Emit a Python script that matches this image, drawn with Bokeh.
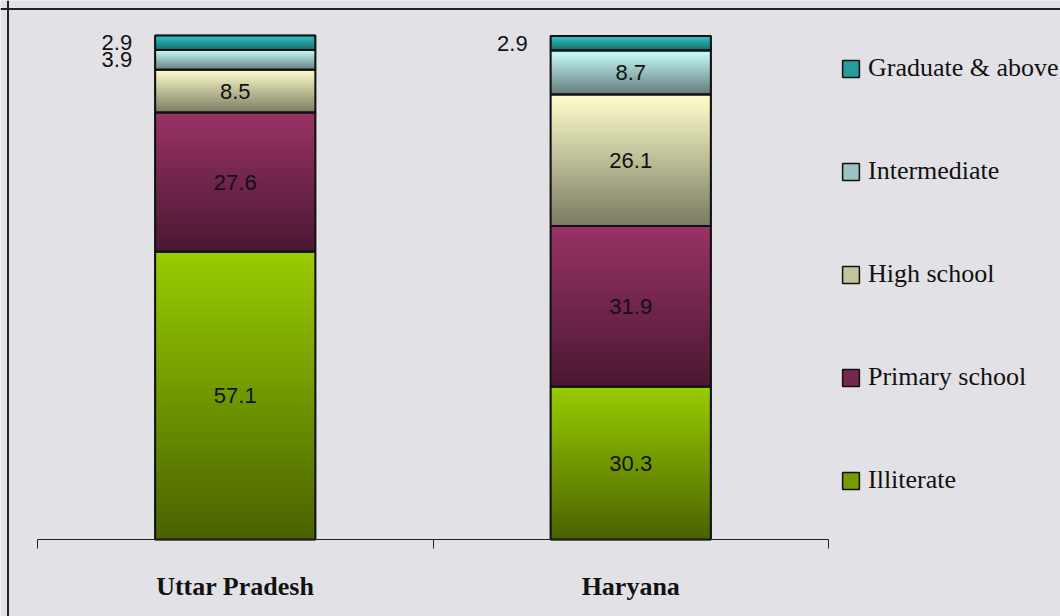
from bokeh.plotting import figure
from bokeh.models import Range1d, LinearAxis, FixedTicker, Span, Legend, LegendItem, ColumnDataSource
from bokeh.core.properties import value
from bokeh.embed import file_html
from bokeh.resources import INLINE

# ---------------- data ----------------
states = ["Uttar Pradesh", "Haryana"]
levels = ["Illiterate", "Primary school", "High school", "Intermediate", "Graduate & above"]
illiterate = [57.1, 30.3]
primary_school = [27.6, 31.9]
high_school = [8.5, 26.1]
intermediate = [3.9, 8.7]
graduate_above = [2.9, 2.9]
series = [illiterate, primary_school, high_school, intermediate, graduate_above]
top_colors = ["#99cc00", "#993366", "#ffffcc", "#ccffff", "#33cccc"]

# ---------------- layout constants ----------------
W, H = 1060, 616
AX_L, AX_R = 37, 828        # pixel ends of the category axis
BASE_Y, TOP_Y = 539, 35     # pixel of value 0 and value 100
XS = 4.0 / (AX_R - AX_L)    # data units per pixel (x)
YS = 100.0 / (BASE_Y - TOP_Y)
BG = "#e2e2e6"
centers = [1, 3]
BAR_W = 0.81
N_SLICES = 40


def hex2rgb(h):
    h = h.lstrip("#")
    return [int(h[i:i + 2], 16) for i in (0, 2, 4)]


def rgb2hex(c):
    return "#%02x%02x%02x" % tuple(max(0, min(255, int(round(v)))) for v in c)


def shade(h, f):
    return rgb2hex([v * f for v in hex2rgb(h)])


def mix(a, b, t):
    ca, cb = hex2rgb(a), hex2rgb(b)
    return rgb2hex([ca[i] + (cb[i] - ca[i]) * t for i in range(3)])


p = figure(width=W, height=H,
           x_range=Range1d(-AX_L * XS, (W - AX_L) * XS),
           y_range=Range1d(-(H - BASE_Y) * YS, BASE_Y * YS),
           x_axis_type=None, y_axis_type=None,
           toolbar_location=None, output_backend="svg",
           min_border_left=0, min_border_right=0, min_border_top=0, min_border_bottom=0,
           background_fill_color=BG, border_fill_color=BG, outline_line_color=None)
p.grid.visible = False

# ---------------- stacked bars: base segment per level (legend renderers) ----------------
level_renderers = []
sl = dict(left=[], right=[], bottom=[], top=[], color=[])
ol = dict(left=[], right=[], bottom=[], top=[])
lab_in = dict(x=[], y=[], text=[])
lab_out = dict(x=[], y=[], text=[])
bases = [0.0 for _ in states]
for li, vals in enumerate(series):
    top_c = top_colors[li]
    bot_c = shade(top_c, 0.48)
    seg = dict(left=[], right=[], bottom=[], top=[])
    for si, cx in enumerate(centers):
        v = vals[si]
        base = bases[si]
        seg["left"].append(cx - BAR_W / 2)
        seg["right"].append(cx + BAR_W / 2)
        seg["bottom"].append(base)
        seg["top"].append(base + v)
        h = v / N_SLICES
        for k in range(N_SLICES):
            b = base + k * h
            t = base + (k + 1) * h + (h * 0.6 if k < N_SLICES - 1 else 0)
            sl["left"].append(cx - BAR_W / 2)
            sl["right"].append(cx + BAR_W / 2)
            sl["bottom"].append(b)
            sl["top"].append(t)
            sl["color"].append(mix(bot_c, top_c, (k + 0.5) / N_SLICES))
        ol["left"].append(cx - BAR_W / 2)
        ol["right"].append(cx + BAR_W / 2)
        ol["bottom"].append(base)
        ol["top"].append(base + v)
        mid = base + v / 2
        if v < 5:
            lab_out["x"].append(cx - BAR_W / 2)
            lab_out["y"].append(mid)
            lab_out["text"].append(f"{v:.1f}")
        else:
            lab_in["x"].append(cx)
            lab_in["y"].append(mid)
            lab_in["text"].append(f"{v:.1f}")
        bases[si] = base + v
    r = p.quad(left="left", right="right", bottom="bottom", top="top",
               fill_color=mix(bot_c, top_c, 0.55), line_color="#111111", line_width=1.5,
               source=ColumnDataSource(seg))
    level_renderers.append(r)

# gradient fill on top of each segment
p.quad(left="left", right="right", bottom="bottom", top="top", fill_color="color",
       line_color=None, source=ColumnDataSource(sl))
# segment outlines
p.quad(left="left", right="right", bottom="bottom", top="top", fill_color=None,
       line_color="#111111", line_width=2, source=ColumnDataSource(ol))

p.text(x="x", y="y", text="text", source=ColumnDataSource(lab_in),
       text_font=value("Liberation Sans"), text_font_size="22px", text_color="#111111",
       text_align="center", text_baseline="middle")
p.text(x="x", y="y", text="text", source=ColumnDataSource(lab_out),
       text_font=value("Liberation Sans"), text_font_size="22px", text_color="#111111",
       text_align="right", text_baseline="middle", x_offset=-23)

# ---------------- category axis ----------------
xaxis = LinearAxis(ticker=FixedTicker(ticks=centers, minor_ticks=[0, 2, 4]),
                   fixed_location=0, bounds=(0, 4),
                   major_label_overrides={c: s for c, s in zip(centers, states)},
                   major_tick_out=0, major_tick_in=0,
                   minor_tick_out=9, minor_tick_in=0,
                   minor_tick_line_color="#222222",
                   major_label_standoff=23,
                   major_label_text_font="Liberation Serif",
                   major_label_text_font_style="bold",
                   major_label_text_font_size="26px",
                   major_label_text_color="#111111",
                   axis_line_color="#222222", axis_line_width=1)
p.add_layout(xaxis, "below")

# ---------------- chart border (top / left) ----------------
p.add_layout(Span(location=(7.5 - AX_L) * XS, dimension="height", line_color="#222222", line_width=2))
p.add_layout(Span(location=(BASE_Y - 8.5) * YS, dimension="width", line_color="#222222", line_width=2))

# ---------------- legend ----------------
items = [LegendItem(label=lv, renderers=[r]) for lv, r in zip(levels, level_renderers)]
items.reverse()
legend = Legend(items=items, location=(840, 121), orientation="vertical",
                glyph_width=21, glyph_height=21, label_height=30, label_standoff=7,
                spacing=73, padding=0, margin=0,
                border_line_color=None, background_fill_alpha=0,
                label_text_font="Liberation Serif", label_text_font_size="26px",
                label_text_color="#111111")
p.add_layout(legend)

open("out.html", "w").write(file_html(p, INLINE))
